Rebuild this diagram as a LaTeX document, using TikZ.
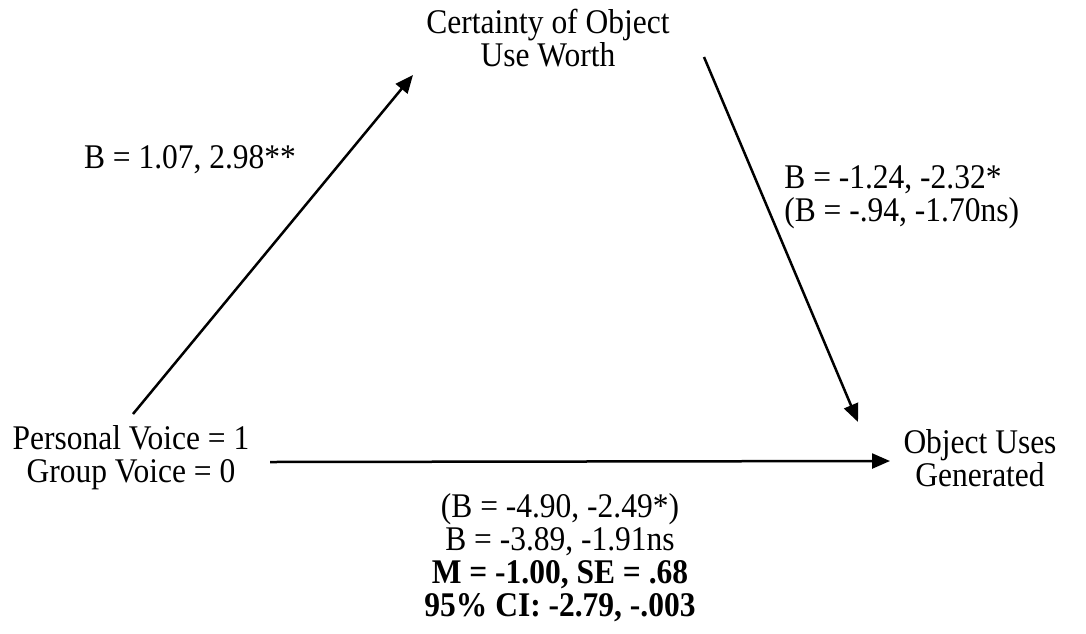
\documentclass[tikz,border=0pt]{standalone}
\usepackage{fontspec}
\setmainfont[FakeStretch=0.91]{Liberation Serif}
\usetikzlibrary{arrows.meta,positioning}

\begin{document}
\begin{tikzpicture}[
  x=0.5pt, y=-0.5pt,
  var/.style={
    align=center, inner sep=0pt,
    font=\fontsize{17.3}{16.5}\selectfont
  },
  coef/.style={
    inner sep=0pt,
    font=\fontsize{17.3}{16.5}\selectfont
  },
  arr/.style={-{Triangle[length=9pt,width=7.5pt]}, line width=1.25pt},
]
\useasboundingbox (0,0) rectangle (1086,633);

%% ── Variables ─────────────────────────────────────────────────────
\node[var] (cert) at (548,38)  {Certainty of Object\\Use Worth};
\node[var] (pv)   at (131,458) {Personal Voice = 1\\Group Voice = 0};
\node[var] (ou)   at (980,458) {Object Uses\\Generated};

%% ── Path coefficients ─────────────────────────────────────────────
\node[coef] (apath) at (190,160) {B = 1.07, 2.98**};
\node[coef, align=left, anchor=west] (bpath) at (784,197)
      {B = -1.24, -2.32*\\(B = -.94, -1.70ns)};
\node[coef, align=center] (cpath) at (560,558)
      {(B = -4.90, -2.49*)\\B = -3.89, -1.91ns\\
       \textbf{M = -1.00, SE = .68}\\\textbf{95\% CI: -2.79, -.003}};

%% ── Arrow ends ────────────────────────────────────────────────────
\coordinate (pvtop)   at (133,414);
\coordinate (pvright) at (270,462);
\coordinate (certin)  at (413,75);
\coordinate (certout) at (704,57);
\coordinate (outop)   at (858,422);
\coordinate (ouleft)  at (890,461);

%% ── Arrows ────────────────────────────────────────────────────────
\draw[arr] (pvtop)   -- (certin);
\draw[arr] (certout) -- (outop);
\draw[arr] (pvright) -- (ouleft);

\end{tikzpicture}
\end{document}
